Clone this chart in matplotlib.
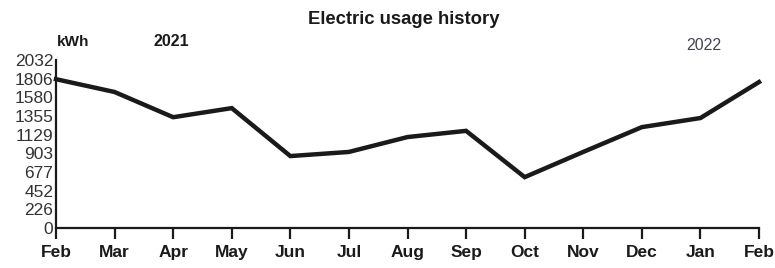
import matplotlib

matplotlib.use("Agg")
import matplotlib.pyplot as plt
from matplotlib import font_manager

months = ["Feb", "Mar", "Apr", "May", "Jun", "Jul", "Aug", "Sep", "Oct", "Nov", "Dec", "Jan", "Feb"]
usage_kwh = [1800, 1645, 1340, 1450, 870, 920, 1100, 1175, 615, 920, 1220, 1330, 1765]
y_ticks = [0, 226, 452, 677, 903, 1129, 1355, 1580, 1806, 2032]

names = {f.name for f in font_manager.fontManager.ttflist}
narrow = "Liberation Sans Narrow" if "Liberation Sans Narrow" in names else "Liberation Sans"
ink = "#1a1a1a"

fig = plt.figure(figsize=(7.75, 2.68), dpi=100)
ax = fig.add_axes([56 / 775, 1 - 228 / 268, (759 - 56) / 775, (228 - 60) / 268])

x = list(range(len(months)))
ax.plot(x, usage_kwh, color=ink, linewidth=3.2, solid_joinstyle="miter", clip_on=False)

ax.set_xlim(0, len(months) - 1)
ax.set_ylim(0, y_ticks[-1])
ax.set_xticks(x)
ax.set_xticklabels(months, fontsize=12.5, fontweight="bold", family=narrow, color=ink)
ax.set_yticks(y_ticks)
ax.set_yticklabels([str(v) for v in y_ticks], fontsize=12.5, family="Liberation Sans", color="#333333")

for side in ("top", "right"):
    ax.spines[side].set_visible(False)
for side in ("left", "bottom"):
    ax.spines[side].set_linewidth(1.6)
    ax.spines[side].set_color(ink)
ax.tick_params(axis="x", length=8, width=1.6, color=ink, pad=4)
ax.tick_params(axis="y", length=0, pad=2)

fig.text(404 / 775, 1 - 20 / 268, "Electric usage history", ha="center", va="center",
         fontsize=13.3, fontweight="bold", family="Liberation Sans", color=ink)
fig.text(57 / 775, 1 - 42 / 268, "kWh", ha="left", va="center",
         fontsize=11, fontweight="bold", family="Liberation Sans", color=ink)
fig.text(171 / 775, 1 - 42 / 268, "2021", ha="center", va="center",
         fontsize=11.5, fontweight="bold", family="Liberation Sans", color=ink)
fig.text(704 / 775, 1 - 45 / 268, "2022", ha="center", va="center",
         fontsize=11.5, family="Liberation Sans", color="#444455")

fig.savefig("out.png", dpi=100)
